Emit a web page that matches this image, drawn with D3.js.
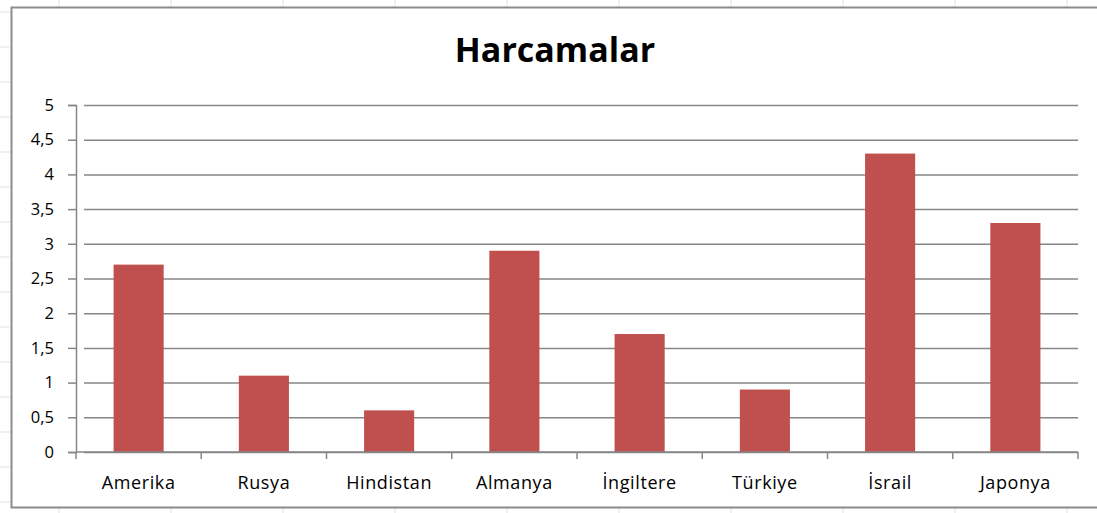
<!DOCTYPE html>
<html>
<head>
<meta charset="utf-8">
<script src="https://cdn.jsdelivr.net/npm/d3@7"></script>
<style>
  body { margin: 0; background: #fff; overflow: hidden; }
  svg { display: block; }
</style>
</head>
<body>
<svg id="chart" width="1097" height="513"></svg>
<script>
// Veriler
const ulkeler = ["Amerika", "Rusya", "Hindistan", "Almanya", "İngiltere", "Türkiye", "İsrail", "Japonya"];
const harcamalar = [2.7, 1.1, 0.6, 2.9, 1.7, 0.9, 4.3, 3.3];
const eksenDegerleri = [0, 0.5, 1, 1.5, 2, 2.5, 3, 3.5, 4, 4.5, 5];

const svg = d3.select("#chart");
const fontAile = "'Open Sans', sans-serif";

// Arka plandaki tablo çizgileri (Excel hücreleri)
const zemin = svg.append("g");
d3.range(59, 1097, 112).forEach(x => {
    zemin.append("line").attr("x1", x).attr("x2", x).attr("y1", 0).attr("y2", 513)
        .attr("stroke", "#dde3ee").attr("stroke-width", 1);
});
d3.range(12, 513, 35).forEach(y => {
    zemin.append("line").attr("x1", 0).attr("x2", 1097).attr("y1", y).attr("y2", y)
        .attr("stroke", "#dde3ee").attr("stroke-width", 1);
});

// Grafik alanı (sağ kenar pencerenin dışında)
svg.append("rect")
    .attr("x", 11.5).attr("y", 7.5)
    .attr("width", 1100).attr("height", 500)
    .attr("fill", "#fff");
svg.append("path")
    .attr("d", "M1097,7.5H11.5V507.5H1097")
    .attr("fill", "none")
    .attr("stroke", "#8c8c8c").attr("stroke-width", 2);

const margin = { left: 76, right: 1078, top: 105, bottom: 452 };

const x = d3.scaleBand()
    .domain(ulkeler)
    .range([margin.left, margin.right])
    .paddingInner(0.6)
    .paddingOuter(0.3);

const y = d3.scaleLinear()
    .domain([0, 5])
    .range([margin.bottom, margin.top]);

// Başlık
svg.append("text")
    .attr("x", 555).attr("y", 62)
    .attr("text-anchor", "middle")
    .style("font-family", fontAile)
    .style("font-weight", "bold")
    .style("font-size", "34px")
    .attr("fill", "#000")
    .text("Harcamalar");

// Yatay ızgara çizgileri
const izgara = svg.append("g")
    .attr("transform", `translate(${margin.left},0)`)
    .call(d3.axisLeft(y).tickValues(eksenDegerleri)
        .tickSize(-(margin.right - margin.left)).tickFormat(""));
izgara.select(".domain").remove();
izgara.selectAll("line").attr("stroke", "#868686").attr("stroke-width", 1.5)
    .attr("x1", 8);

// Y ekseni
const yEkseni = svg.append("g")
    .attr("transform", `translate(${margin.left},0)`)
    .call(d3.axisLeft(y).tickValues(eksenDegerleri).tickSize(8).tickPadding(14)
        .tickFormat(d => String(d).replace(".", ",")));
yEkseni.select(".domain").attr("stroke", "#868686").attr("stroke-width", 1.5);
yEkseni.selectAll("line").attr("stroke", "#868686").attr("stroke-width", 1.5);
yEkseni.selectAll("text")
    .style("font-family", fontAile).style("font-size", "16.5px").attr("fill", "#000");

// Sütunlar
svg.append("g").selectAll("rect")
    .data(harcamalar)
    .enter()
    .append("rect")
    .attr("x", (d, i) => x(ulkeler[i]))
    .attr("y", d => y(d))
    .attr("width", x.bandwidth())
    .attr("height", d => y(0) - y(d))
    .attr("fill", "#c0504d");

// X ekseni
const xEkseni = svg.append("g")
    .attr("transform", `translate(0,${margin.bottom})`)
    .call(d3.axisBottom(x).tickSize(0).tickPadding(24));
xEkseni.select(".domain").attr("stroke", "#868686").attr("stroke-width", 1.5)
    .attr("d", `M${margin.left},0H${margin.right}`);
xEkseni.selectAll("text")
    .style("font-family", fontAile).style("font-size", "18px")
    .style("letter-spacing", "0.6px").attr("fill", "#000");

// Kategori sınırlarındaki tik çizgileri
const sinirX = i => margin.left + i * (margin.right - margin.left) / ulkeler.length;
xEkseni.selectAll(".sinir")
    .data(d3.range(ulkeler.length + 1))
    .enter()
    .append("line")
    .attr("x1", sinirX)
    .attr("x2", sinirX)
    .attr("y1", 0).attr("y2", 7)
    .attr("stroke", "#868686").attr("stroke-width", 1.5);
</script>
</body>
</html>
